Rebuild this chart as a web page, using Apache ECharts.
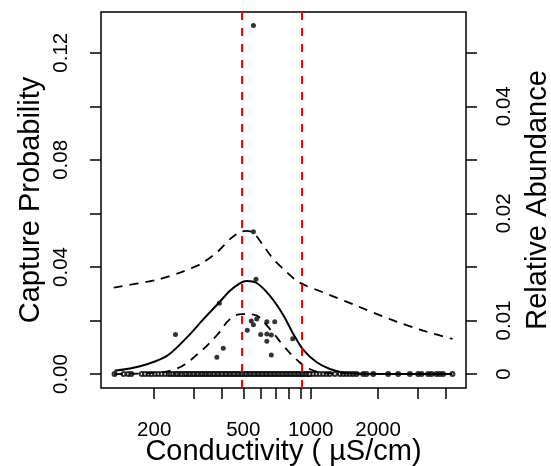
<!DOCTYPE html>
<html><head><meta charset="utf-8">
<script src="https://cdn.jsdelivr.net/npm/echarts@6/dist/echarts.min.js"></script>
<style>html,body{margin:0;padding:0;background:#fff}#c{width:551px;height:466px}</style>
</head><body><div id="c"></div>
<script>
// Sites where the taxon was absent (capture = 0), conductivity in uS/cm
const zeroCond = [133, 146, 153, 158, 176, 182, 189, 195, 202, 209, 216, 224,
  232, 237, 243, 250, 254, 261, 266, 273, 278, 285, 290, 297, 302, 310, 315, 323, 329, 337, 343, 351,
  357, 366, 372, 382, 388, 398, 404, 415, 421, 432, 439, 450, 457, 469, 477, 489, 497, 509, 518, 531,
  540, 553, 563, 577, 587, 601, 611, 626, 637, 652, 664, 680, 692, 708, 721, 738, 751, 769, 783, 801,
  816, 835, 850, 870, 886, 906, 923, 944, 961, 983,
  993, 1027, 1063, 1100, 1138, 1178, 1219, 1283,
  1351, 1398, 1447, 1497, 1549, 1604, 1717, 1777, 1902, 2219, 2459, 2773, 3020, 3126, 3346, 3464,
  3648, 3773, 3904, 4298];
// Sites with captures
const hitCond = [555, 555, 570, 391, 249, 407, 381, 521, 543, 555, 574, 637, 691, 598, 637, 667, 637, 667, 831];
const hitProb = [0.1302, 0.0531, 0.0354, 0.0264, 0.0148, 0.0096, 0.0063, 0.0164, 0.0198, 0.0184, 0.0206,
  0.0195, 0.0195, 0.0148, 0.0150, 0.0146, 0.0123, 0.0071, 0.0132];
// Fitted capture probability curve
const fitCond = [133, 173, 228, 280, 332, 391, 436, 484, 518, 574, 658, 755, 836, 927, 1064, 1219, 1398, 1660, 4298];
const fitProb = [0.0012, 0.0029, 0.0068, 0.0137, 0.0205, 0.0268, 0.0311, 0.0340, 0.0348, 0.0340, 0.0292,
  0.0220, 0.0150, 0.0090, 0.0044, 0.0019, 0.0006, 0.0001, 0.0000];
// Upper confidence bound
const upperCond = [132, 206, 261, 321, 381, 436, 484, 518, 555, 615, 681, 755, 866, 960, 1138, 1604, 2258, 3179, 4298];
const upperProb = [0.0323, 0.0352, 0.0379, 0.0410, 0.0454, 0.0504, 0.0531, 0.0535, 0.0529, 0.0479, 0.0429,
  0.0392, 0.0348, 0.0329, 0.0305, 0.0255, 0.0205, 0.0162, 0.0131];
// Lower confidence bound
const lowerCond = [132, 192, 253, 310, 381, 436, 492, 555, 658, 755, 866, 993, 1219, 4298];
const lowerProb = [0.0000, 0.0004, 0.0021, 0.0072, 0.0145, 0.0205, 0.0224, 0.0222, 0.0168, 0.0106, 0.0054,
  0.0018, 0.0003, 0.0000];
// Red threshold lines
const thresholds = [489, 912];
// Axis ticks and labels
const xTickValues = [200, 300, 400, 500, 600, 700, 800, 900, 1000, 2000, 3000, 4000];
const xLabelValues = [200, 500, 1000, 2000];
const leftTickValues = [0, 0.02, 0.04, 0.06, 0.08, 0.10, 0.12];
const leftLabelValues = [0, 0.04, 0.08, 0.12];
const rightLabelPos = [0, 0.02, 0.06, 0.10];
const rightLabelText = ['0', '0.01', '0.02', '0.04'];

const FONT = '"Liberation Sans", Arial, Helvetica, sans-serif';
const lg = Math.log10;
const pairs = (xs, ys) => xs.map((x, i) => [lg(x), ys[i]]);

const chart = echarts.init(document.getElementById('c'), null, {renderer: 'canvas'});
const tickStyle = {show: true, inside: false, length: 11, lineStyle: {color: '#000', width: 1.5}};
chart.setOption({
  animation: false,
  backgroundColor: '#fff',
  grid: {left: 101, right: 85, top: 12, bottom: 78, outerBoundsMode: 'none', containLabel: false,
    show: true, borderColor: '#000', borderWidth: 1.5, backgroundColor: 'transparent'},
  xAxis: {
    type: 'value', min: 2.0635, max: 3.6937,
    axisLine: {show: false, onZero: false}, splitLine: {show: false},
    axisTick: Object.assign({}, tickStyle, {customValues: xTickValues.map(lg)}),
    axisLabel: {customValues: xLabelValues.map(lg), margin: 32, fontSize: 20.5, color: '#000', fontFamily: FONT,
      formatter: v => String(Math.round(Math.pow(10, v)))},
    name: 'Conductivity ( \u00b5S/cm)', nameLocation: 'middle', nameGap: 49, nameMoveOverlap: false,
    nameTextStyle: {fontSize: 29, color: '#000', fontFamily: FONT}
  },
  yAxis: [{
    type: 'value', min: -0.0052, max: 0.1352, position: 'left',
    axisLine: {show: false, onZero: false}, splitLine: {show: false},
    axisTick: Object.assign({}, tickStyle, {customValues: leftTickValues}),
    axisLabel: {customValues: leftLabelValues, rotate: 90, margin: 29, fontSize: 20.5, color: '#000', fontFamily: FONT,
      formatter: v => v.toFixed(2)},
    name: 'Capture Probability', nameLocation: 'middle', nameGap: 56, nameRotate: 90, nameMoveOverlap: false,
    nameTextStyle: {fontSize: 29, color: '#000', fontFamily: FONT}
  }, {
    type: 'value', min: -0.0052, max: 0.1352, position: 'right',
    axisLine: {show: false, onZero: false}, splitLine: {show: false},
    axisTick: Object.assign({}, tickStyle, {customValues: leftTickValues}),
    axisLabel: {customValues: rightLabelPos, rotate: 90, margin: 28, fontSize: 20.5, color: '#000', fontFamily: FONT,
      formatter: v => { const i = rightLabelPos.findIndex(p => Math.abs(p - v) < 1e-6); return i >= 0 ? rightLabelText[i] : ''; }},
    name: 'Relative Abundance', nameLocation: 'middle', nameGap: 57, nameRotate: 90, nameMoveOverlap: false,
    nameTextStyle: {fontSize: 29, color: '#000', fontFamily: FONT}
  }],
  series: [
    {type: 'scatter', data: pairs(zeroCond, zeroCond.map(() => 0)), symbol: 'emptyCircle', symbolSize: 4,
      itemStyle: {color: '#000', borderColor: '#000', borderWidth: 1.2}, silent: true, z: 3},
    {type: 'line', data: pairs(fitCond, fitProb), smooth: 0.3, showSymbol: false, symbol: 'none',
      lineStyle: {color: '#000', width: 2}, silent: true, z: 4},
    {type: 'line', data: pairs(upperCond, upperProb), smooth: 0.2, showSymbol: false, symbol: 'none',
      lineStyle: {color: '#000', width: 1.8, type: [9, 7]}, silent: true, z: 4},
    {type: 'line', data: pairs(lowerCond, lowerProb), smooth: 0.4, showSymbol: false, symbol: 'none',
      lineStyle: {color: '#000', width: 1.8, type: [9, 7]}, silent: true, z: 4},
    {type: 'scatter', data: pairs(hitCond, hitProb), symbol: 'circle', symbolSize: 5,
      itemStyle: {color: '#000'}, silent: true, z: 5,
      markLine: {silent: true, symbol: ['none', 'none'], label: {show: false},
        lineStyle: {color: '#ff0000', width: 2, type: [8, 8]},
        data: thresholds.map(t => ({xAxis: lg(t)}))}}
  ]
});
</script>
</body></html>
